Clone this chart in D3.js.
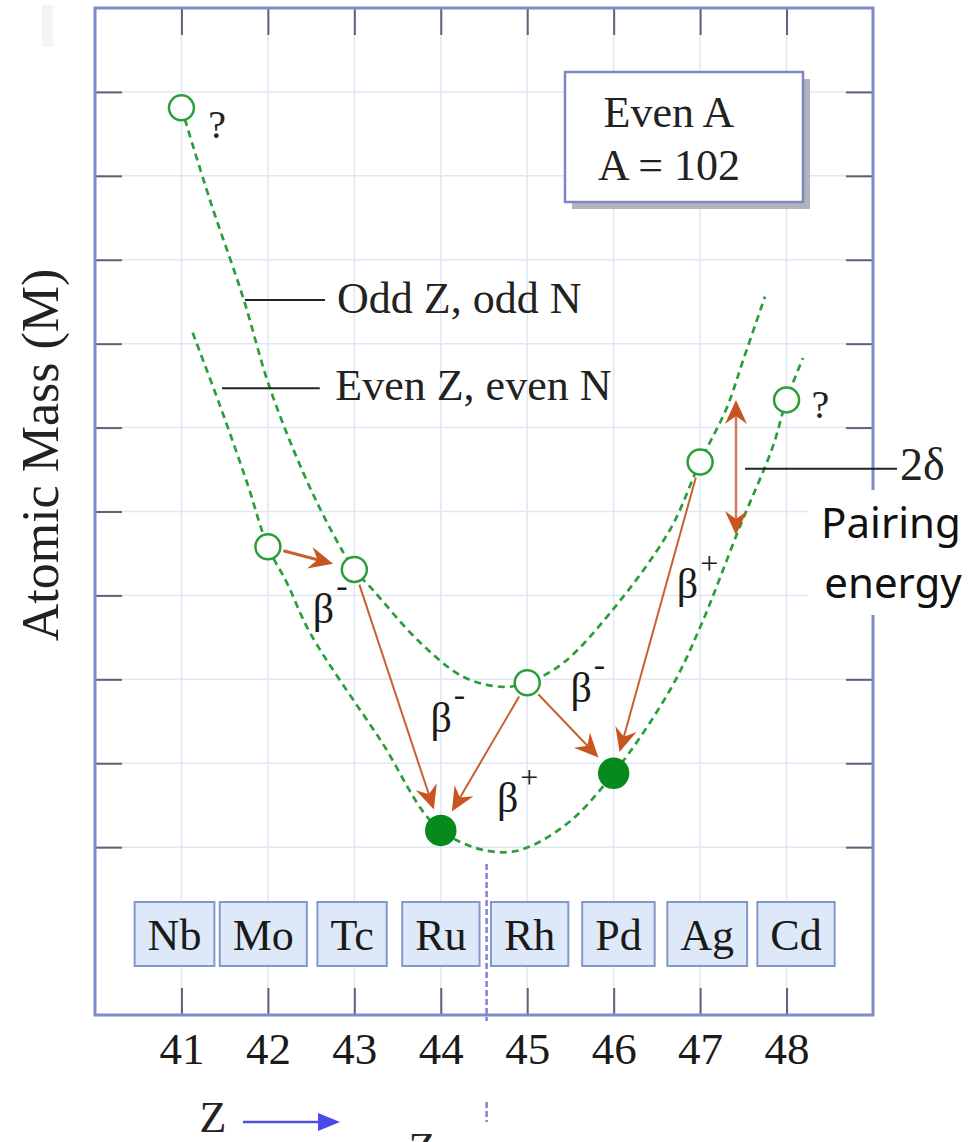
<!DOCTYPE html>
<html><head><meta charset="utf-8">
<script src="https://cdn.jsdelivr.net/npm/d3@7"></script>
<style>body{margin:0;background:#fff}svg{display:block}</style>
</head><body><svg id="c" width="973" height="1142"></svg>
<script>
// ---------------- data ----------------
const zTicks = [41, 42, 43, 44, 45, 46, 47, 48];
const massTicks = [1, 2, 3, 4, 5, 6, 7, 8, 9, 10];
const elements = ["Nb", "Mo", "Tc", "Ru", "Rh", "Pd", "Ag", "Cd"];
const elementZ = [41, 42, 43, 44, 45, 46, 47, 48];
const masses = [9.81, 4.58, 4.31, 1.20, 2.96, 1.88, 5.59, 6.33];
const stable = [false, false, false, true, false, true, false, false];
const unknownIdx = [0, 7];
// odd Z, odd N parabola
const oddOddCurve = [[41,9.81],[41.33,8.71],[41.71,7.56],[42.02,6.48],[42.41,5.46],[42.75,4.74],[43,4.31],[43.22,4.06],[43.73,3.47],[44.26,3.03],[44.72,2.91],[45,2.96],[45.41,3.19],[45.99,3.83],[46.65,4.78],[47,5.59],[47.31,6.24],[47.5,6.81],[47.75,7.56]];
// even Z, even N parabola
const evenEvenCurve = [[41.13,7.13],[41.45,6.25],[41.76,5.34],[42,4.58],[42.22,4.15],[42.49,3.55],[43.3,2.28],[44,1.2],[44.77,0.94],[45.41,1.24],[46,1.88],[46.65,2.87],[47,3.62],[47.46,4.82],[47.84,5.77],[48,6.33],[48.19,6.83]];
// decays
const decayFrom = [1, 2, 4, 4, 6];
const decayTo   = [2, 3, 3, 5, 5];
const decaySign = ["-", "-", "+", "-", "+"];
const decayLabelZ = [42.52, 43.88, 44.65, 45.5, 46.73];
const decayLabelV = [3.67, 2.37, 1.42, 2.73, 3.97];
// pairing gap
const pairZ = 47.415, pairTop = 6.33, pairBottom = 4.72;

// ---------------- setup ----------------
const svg = d3.select("#c");
const L = 95, T = 8, R = 873, B = 1015;
const x = d3.scaleLinear().domain([40, 49]).range([L, R]);
const y = d3.scaleLinear().domain([-1, 11]).range([B, T]);
const serif = "'Liberation Serif','Times New Roman',serif";
const gridC = "#dfe7f4", frameC = "#7d8cc6", tickC = "#5d6275";
const green = "#2a9e38", arrowC = "#c8602f", headC = "#c8541f";

// faint smudge top-left
svg.append("rect").attr("x", 42).attr("y", 5).attr("width", 11).attr("height", 42).attr("fill", "#f5f4f1");

// grid
const g = svg.append("g");
g.selectAll(".vg").data(zTicks).join("line")
  .attr("x1", d => x(d)).attr("x2", d => x(d)).attr("y1", T).attr("y2", B)
  .attr("stroke", gridC).attr("stroke-width", 1.5);
g.selectAll(".hg").data(massTicks).join("line")
  .attr("x1", L).attr("x2", R).attr("y1", d => y(d)).attr("y2", d => y(d))
  .attr("stroke", gridC).attr("stroke-width", 1.5);

// axes (inner ticks)
function styleAxis(sel) {
  sel.select(".domain").remove();
  sel.selectAll(".tick line").attr("stroke", tickC).attr("stroke-width", 2);
}
const bottom = svg.append("g").attr("transform", `translate(0,${B})`)
  .call(d3.axisBottom(x).tickValues(zTicks).tickSize(-27).tickPadding(17).tickFormat(d3.format("d")));
styleAxis(bottom);
bottom.selectAll(".tick text").attr("font-family", serif).attr("font-size", 45).attr("fill", "#1a1a1a");
svg.append("g").attr("transform", `translate(0,${T})`)
  .call(d3.axisTop(x).tickValues(zTicks).tickSize(-27).tickFormat("")).call(styleAxis);
svg.append("g").attr("transform", `translate(${L},0)`)
  .call(d3.axisLeft(y).tickValues(massTicks).tickSize(-27).tickFormat("")).call(styleAxis);
svg.append("g").attr("transform", `translate(${R},0)`)
  .call(d3.axisRight(y).tickValues(massTicks).tickSize(-27).tickFormat("")).call(styleAxis);

// frame
svg.append("rect").attr("x", L).attr("y", T).attr("width", R - L).attr("height", B - T)
  .attr("fill", "none").attr("stroke", frameC).attr("stroke-width", 3);

// y title
svg.append("text").attr("transform", "translate(58,455) rotate(-90)")
  .attr("text-anchor", "middle").attr("font-family", serif).attr("font-size", 52).attr("fill", "#222")
  .text("Atomic Mass (M)");

// element boxes
const bx = d3.scalePoint().domain(elements).range([174.5, 796]);
const eb = svg.append("g");
elements.forEach((e, i) => {
  const t = eb.append("text").attr("x", bx(e)).attr("y", 950).attr("text-anchor", "middle")
    .attr("font-family", serif).attr("font-size", 44).attr("fill", "#1a1a1a").text(e);
  const w = t.node().getComputedTextLength() + 26;
  eb.insert("rect", "text").attr("x", bx(e) - w / 2).attr("y", 902).attr("width", w).attr("height", 64)
    .attr("fill", "#dde8f8").attr("stroke", "#8399cc").attr("stroke-width", 2);
});

// dashed divider at Z = 44.5
svg.append("line").attr("x1", x(44.53)).attr("x2", x(44.53)).attr("y1", y(0.8)).attr("y2", B + 6)
  .attr("stroke", "#8a7ed8").attr("stroke-width", 2.5).attr("stroke-dasharray", "6,3");
svg.append("line").attr("x1", x(44.53)).attr("x2", x(44.53)).attr("y1", 1102).attr("y2", 1122)
  .attr("stroke", "#8a7ed8").attr("stroke-width", 2.5).attr("stroke-dasharray", "6,3");

// curves
const line = d3.line().x(d => x(d[0])).y(d => y(d[1])).curve(d3.curveCatmullRom.alpha(0.5));
[oddOddCurve, evenEvenCurve].forEach(c => {
  svg.append("path").attr("d", line(c)).attr("fill", "none").attr("stroke", green)
    .attr("stroke-width", 2.7).attr("stroke-dasharray", "7,5");
});

// arrow helper
function head(px, py, ang, col) {
  const s = 24, w = 11, n = 16;
  const pts = [[0, 0], [-s, -w], [-n, 0], [-s, w]].map(([a, b]) =>
    [px + a * Math.cos(ang) - b * Math.sin(ang), py + a * Math.sin(ang) + b * Math.cos(ang)]);
  svg.append("path").attr("d", "M" + pts.map(p => p.join(",")).join("L") + "Z").attr("fill", col);
}
function arrow(x1, y1, x2, y2, s0, s1, col, hc, sw) {
  const ang = Math.atan2(y2 - y1, x2 - x1);
  const sx = x1 + s0 * Math.cos(ang), sy = y1 + s0 * Math.sin(ang);
  const ex = x2 - s1 * Math.cos(ang), ey = y2 - s1 * Math.sin(ang);
  svg.append("line").attr("x1", sx).attr("y1", sy).attr("x2", ex - 15 * Math.cos(ang)).attr("y2", ey - 15 * Math.sin(ang))
    .attr("stroke", col).attr("stroke-width", sw);
  head(ex, ey, ang, hc);
}

// decay arrows
decayFrom.forEach((f, i) => {
  const t = decayTo[i];
  arrow(x(elementZ[f]), y(masses[f]), x(elementZ[t]), y(masses[t]), 16, 22, arrowC, headC, i === 0 ? 3 : 2);
  const lab = svg.append("text").attr("x", x(decayLabelZ[i])).attr("y", y(decayLabelV[i]))
    .attr("font-family", serif).attr("font-size", 42).attr("fill", "#1a1a1a");
  lab.append("tspan").text("β");
  lab.append("tspan").attr("dy", decaySign[i] === "+" ? -24 : -26).attr("dx", 2)
    .attr("font-size", decaySign[i] === "+" ? 32 : 34).text(decaySign[i]);
});

// points
svg.selectAll(".pt").data(elements).join("circle")
  .attr("cx", (d, i) => x(elementZ[i])).attr("cy", (d, i) => y(masses[i]))
  .attr("r", (d, i) => stable[i] ? 14.5 : 12.5)
  .attr("fill", (d, i) => stable[i] ? "#078a1c" : "#fff")
  .attr("stroke", (d, i) => stable[i] ? "#078a1c" : green).attr("stroke-width", 2.5);

// "?" marks
const qPos = [[41.31, 9.45], [48.29, 6.11]];
unknownIdx.forEach((k, i) => {
  svg.append("text").attr("x", x(qPos[i][0])).attr("y", y(qPos[i][1]))
    .attr("font-family", serif).attr("font-size", 40).attr("fill", "#222").text("?");
});

// legend leaders
svg.append("line").attr("x1", x(41.735)).attr("x2", x(42.66)).attr("y1", y(7.52)).attr("y2", y(7.52))
  .attr("stroke", "#222").attr("stroke-width", 2);
svg.append("text").attr("x", x(42.8)).attr("y", y(7.365)).attr("font-family", serif).attr("font-size", 44)
  .attr("fill", "#222").text("Odd Z, odd N");
svg.append("line").attr("x1", x(41.47)).attr("x2", x(42.6)).attr("y1", y(6.47)).attr("y2", y(6.47))
  .attr("stroke", "#222").attr("stroke-width", 2);
svg.append("text").attr("x", x(42.78)).attr("y", y(6.33)).attr("font-family", serif).attr("font-size", 44)
  .attr("fill", "#222").text("Even Z, even N");

// Even A box
svg.append("rect").attr("x", 572).attr("y", 79).attr("width", 238).attr("height", 130).attr("fill", "#b3b3bb");
svg.append("rect").attr("x", 565).attr("y", 72).attr("width", 238).attr("height", 130)
  .attr("fill", "#fff").attr("stroke", "#7f86c4").attr("stroke-width", 2.5);
svg.append("text").attr("x", 669).attr("y", 127).attr("text-anchor", "middle").attr("font-family", serif)
  .attr("font-size", 44).attr("fill", "#222").text("Even A");
svg.append("text").attr("x", 669).attr("y", 180).attr("text-anchor", "middle").attr("font-family", serif)
  .attr("font-size", 44).attr("fill", "#222").text("A = 102");

// pairing gap double arrow
const px = x(pairZ);
svg.append("line").attr("x1", px).attr("x2", px).attr("y1", y(pairTop) + 15).attr("y2", y(pairBottom) - 15)
  .attr("stroke", "#d07a5a").attr("stroke-width", 2.5);
head(px, y(pairTop), -Math.PI / 2, headC);
head(px, y(pairBottom), Math.PI / 2, headC);

// white patch with "Pairing energy"
svg.append("rect").attr("x", 808).attr("y", 490).attr("width", 165).attr("height", 125).attr("fill", "#fff");
svg.append("line").attr("x1", x(47.52)).attr("x2", 897).attr("y1", y(5.51)).attr("y2", y(5.51))
  .attr("stroke", "#222").attr("stroke-width", 2);
svg.append("text").attr("x", 900).attr("y", y(5.375)).attr("font-family", serif).attr("font-size", 46)
  .attr("fill", "#222").text("2δ");
const sans = "'Noto Sans','Open Sans',sans-serif";
svg.append("text").attr("x", 891).attr("y", 538).attr("text-anchor", "middle").attr("font-family", sans)
  .attr("font-size", 42).attr("fill", "#111").text("Pairing");
svg.append("text").attr("x", 893).attr("y", 598).attr("text-anchor", "middle").attr("font-family", sans)
  .attr("font-size", 42).attr("fill", "#111").text("energy");

// Z arrow at bottom
svg.append("text").attr("x", 213).attr("y", 1132).attr("text-anchor", "middle").attr("font-family", serif)
  .attr("font-size", 44).attr("fill", "#222").text("Z");
svg.append("line").attr("x1", 243).attr("x2", 322).attr("y1", 1122).attr("y2", 1122)
  .attr("stroke", "#5050e0").attr("stroke-width", 2.5);
svg.append("path").attr("d", "M340,1122L318,1113L318,1131Z").attr("fill", "#4a4ae8");
svg.append("text").attr("x", 422).attr("y", 1163).attr("text-anchor", "middle").attr("font-family", serif)
  .attr("font-size", 44).attr("fill", "#222").text("Z");
</script></body></html>
